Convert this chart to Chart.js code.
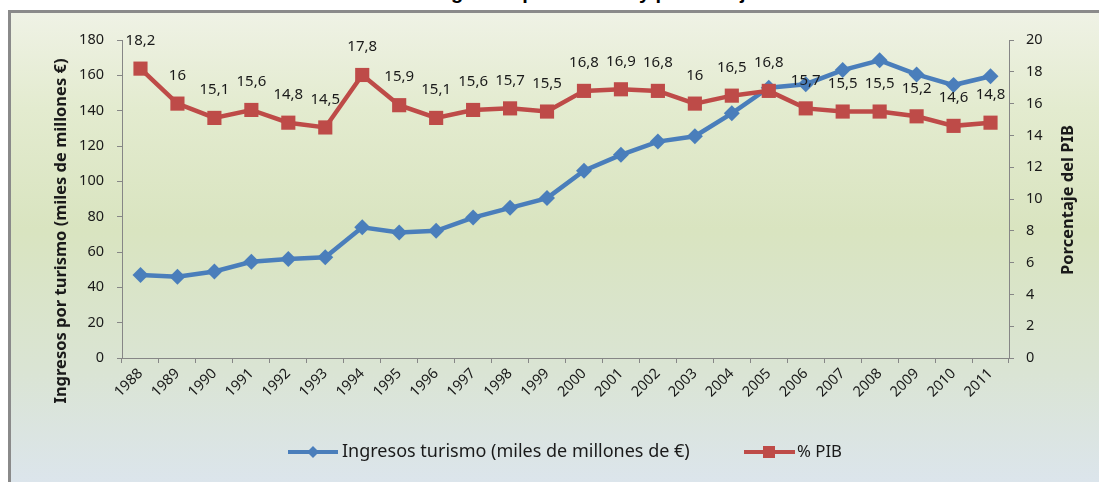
<!DOCTYPE html>
<html><head><meta charset="utf-8">
<script src="https://cdn.jsdelivr.net/npm/chart.js@4.4.1/dist/chart.umd.min.js"></script>
<style>
html,body{margin:0;padding:0;background:#fff;width:1099px;height:482px;overflow:hidden;position:relative;}
#frame{position:absolute;left:8px;top:10px;width:1100px;height:480px;border-left:3px solid #8a8a8a;border-top:3px solid #8a8a8a;
 background:linear-gradient(to bottom,#eff2e5 0%,#e3ebcf 20%,#d9e4c0 45%,#dae4d4 75%,#dce5ee 100%);}
#titleclip{position:absolute;left:0;top:0;width:1099px;height:9px;overflow:hidden;}
#title{position:absolute;left:0;width:1099px;top:-19px;text-align:center;font:bold 20px "Liberation Sans",sans-serif;color:#000;white-space:nowrap;}
#wrap{position:absolute;left:0;top:0;width:1099px;height:482px;}
</style></head>
<body>
<div id="frame"></div>
<div id="titleclip"><div id="title">Evolución de los ingresos por turismo y porcentaje del PIB</div></div>
<div id="wrap"><canvas id="c" width="1099" height="482"></canvas></div>
<script>
const years = ['1988','1989','1990','1991','1992','1993','1994','1995','1996','1997','1998','1999','2000','2001','2002','2003','2004','2005','2006','2007','2008','2009','2010','2011'];
const ingresos = [47,46,49,54.5,56,57,74,71,72,79.5,85,90.5,106,115,122.5,125.5,138.5,153,155,163,168.5,160.5,154.5,159.5];
const pib = [18.2,16,15.1,15.6,14.8,14.5,17.8,15.9,15.1,15.6,15.7,15.5,16.8,16.9,16.8,16,16.5,16.8,15.7,15.5,15.5,15.2,14.6,14.8];
const leftTicks = [0,20,40,60,80,100,120,140,160,180];
const rightTicks = [0,2,4,6,8,10,12,14,16,18,20];
const seriesNames = ['Ingresos turismo (miles de millones de €)','% PIB'];
const axisTitles = ['Ingresos por turismo (miles de millones €)','Porcentaje del PIB'];

const BLUE='#4a7ebb', RED='#be4b48', AXIS='#868686', TXT='#1a1a1a';
const FONT='"Noto Sans", sans-serif';

const overlay = {
  id:'overlay',
  afterDatasetsDraw(chart){
    const ctx = chart.ctx;
    const meta = chart.getDatasetMeta(1);
    ctx.save();
    ctx.font = '15px '+FONT;
    ctx.fillStyle = TXT;
    ctx.textAlign='center'; ctx.textBaseline='middle';
    meta.data.forEach((pt,i)=>{
      ctx.fillText(String(pib[i]).replace('.',','), pt.x, pt.y-28);
    });
    ctx.restore();
  },
  afterDraw(chart){
    const ctx = chart.ctx;
    ctx.save();
    ctx.fillStyle = TXT;
    ctx.font = 'bold 16.5px '+FONT;
    ctx.textAlign='center'; ctx.textBaseline='middle';
    ctx.save(); ctx.translate(61,231); ctx.rotate(-Math.PI/2);
    ctx.fillText(axisTitles[0],0,0); ctx.restore();
    ctx.save(); ctx.translate(1068,200); ctx.rotate(-Math.PI/2);
    ctx.fillText(axisTitles[1],0,0); ctx.restore();
    const ly = 452;
    ctx.lineWidth = 4; ctx.lineCap='butt';
    ctx.strokeStyle = BLUE;
    ctx.beginPath(); ctx.moveTo(288,ly); ctx.lineTo(338,ly); ctx.stroke();
    ctx.fillStyle = BLUE;
    ctx.beginPath(); ctx.moveTo(313-6,ly); ctx.lineTo(313,ly-6); ctx.lineTo(313+6,ly); ctx.lineTo(313,ly+6); ctx.closePath(); ctx.fill();
    ctx.strokeStyle = RED;
    ctx.beginPath(); ctx.moveTo(744,ly); ctx.lineTo(795,ly); ctx.stroke();
    ctx.fillStyle = RED;
    ctx.fillRect(769-6,ly-6,12,12);
    ctx.fillStyle = TXT;
    ctx.textAlign='left';
    function fitText(t,x,w){
      ctx.font = '16px '+FONT;
      const m = ctx.measureText(t).width;
      const s = Math.min(18, 16*w/m);
      ctx.font = s.toFixed(2)+'px '+FONT;
      ctx.fillText(t,x,ly);
    }
    fitText(seriesNames[0],342,356);
    fitText(seriesNames[1],797,45);
    ctx.restore();
  }
};

new Chart(document.getElementById('c'), {
  type:'line',
  data:{
    labels: years,
    datasets:[
      {label:seriesNames[0], data:ingresos, yAxisID:'y', borderColor:BLUE, backgroundColor:BLUE, borderWidth:4.5,
       pointStyle:'rectRot', pointRadius:8, pointHoverRadius:8, pointBorderWidth:0, tension:0, order:2},
      {label:seriesNames[1], data:pib, yAxisID:'y2', borderColor:RED, backgroundColor:RED, borderWidth:4.5,
       pointStyle:'rect', pointRadius:10, pointHoverRadius:10, pointBorderWidth:0, tension:0, order:1}
    ]
  },
  options:{
    responsive:false, animation:false, events:[],
    layout:{padding:{top:40,left:0,right:0,bottom:0}},
    plugins:{legend:{display:false}, tooltip:{enabled:false}, title:{display:false}},
    scales:{
      x:{
        offset:true,
        grid:{display:true, drawOnChartArea:false, offset:true, tickLength:5, color:AXIS},
        border:{color:AXIS, width:1},
        ticks:{color:TXT, font:{family:'"Noto Sans"', size:14.5}, minRotation:45, maxRotation:45, padding:2, autoSkip:false},
        afterFit(s){ s.height = 124; }
      },
      y:{
        position:'left', min:0, max:180,
        afterBuildTicks(s){ s.ticks = leftTicks.map(v=>({value:v})); },
        grid:{display:true, drawOnChartArea:false, tickLength:5, color:AXIS},
        border:{color:AXIS, width:1},
        ticks:{color:TXT, font:{family:'"Noto Sans"', size:14.5}, padding:13},
        afterFit(s){ s.width = 122; }
      },
      y2:{
        position:'right', min:0, max:20,
        afterBuildTicks(s){ s.ticks = rightTicks.map(v=>({value:v})); },
        grid:{display:true, drawOnChartArea:false, tickLength:5, color:AXIS},
        border:{color:AXIS, width:1},
        ticks:{color:TXT, font:{family:'"Noto Sans"', size:14.5}, padding:12},
        afterFit(s){ s.width = 90; }
      }
    }
  },
  plugins:[overlay]
});
</script>
</body></html>
